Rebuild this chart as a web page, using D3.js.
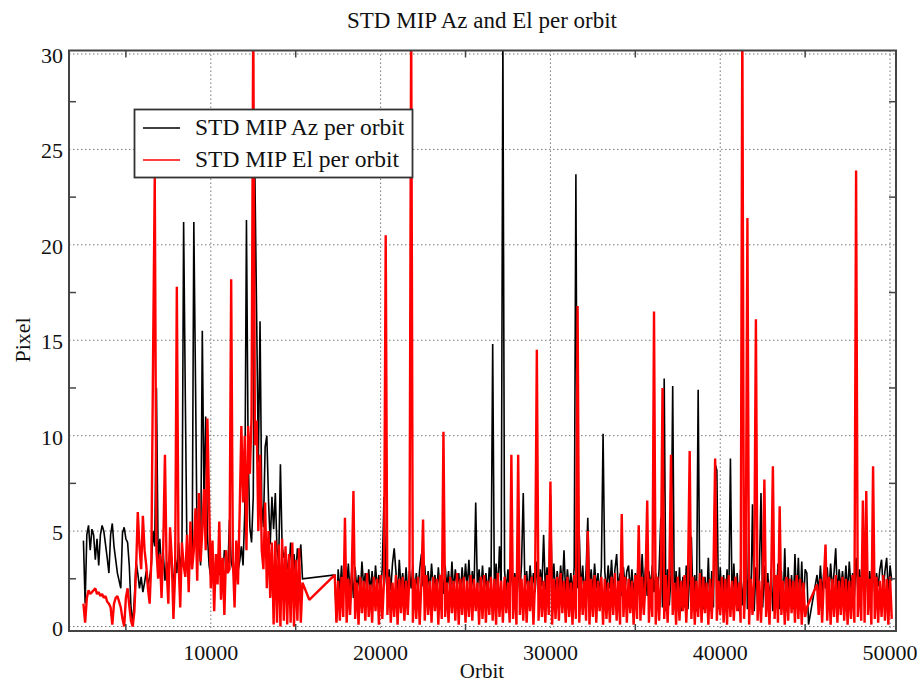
<!DOCTYPE html>
<html>
<head>
<meta charset="utf-8">
<script src="https://cdn.jsdelivr.net/npm/d3@7"></script>
<style>
  html, body { margin: 0; padding: 0; background: #fff; }
  svg { display: block; }
  text { font-family: "Liberation Serif", "DejaVu Serif", serif; fill: #111; }
</style>
</head>
<body>
<svg id="chart" width="922" height="684"></svg>
<script>
// ---------------- data ----------------
const titleText = "STD MIP Az and El per orbit";
const xLabel = "Orbit";
const yLabel = "Pixel";
const seriesNames = ["STD MIP Az per orbit", "STD MIP El per orbit"];
const seriesColors = ["#000000", "#ff0000"];
const xTickValues = [10000, 20000, 30000, 40000, 50000];
const xMinorTicks = [5000, 15000, 25000, 35000, 45000];
const yTickValues = [0, 5, 10, 15, 20, 25, 30];
const yMinorTicks = [2.5, 7.5, 12.5, 17.5, 22.5, 27.5];

// orbit sampling (every 100 orbits from orbit 2500)
const orbitStart = 2500;
const orbitStep = 100;

// STD MIP Az per orbit (black)
const azValues = [
4.5,1.2,4.8,5.3,4.0,5.1,4.8,3.5,4.6,3.2,
4.8,5.3,5.0,4.3,3.6,2.8,4.8,5.4,4.2,3.5,
2.8,2.4,2.0,4.9,5.2,4.6,4.4,3.2,1.0,0.1,
1.5,3.4,2.8,2.0,2.6,1.8,2.3,2.9,2.2,2.6,
3.2,5.0,4.2,12.5,3.5,4.6,2.8,3.9,2.4,3.4,
2.6,4.2,3.0,2.2,3.6,2.8,4.4,3.1,3.8,21.2,
12.0,3.6,2.4,4.2,3.0,21.2,12.8,3.8,4.6,3.2,
15.5,6.5,11.0,4.8,3.2,2.6,3.8,2.9,2.4,3.1,
2.7,3.3,2.5,4.0,3.6,2.8,5.6,3.4,3.0,2.6,
3.8,2.9,3.4,4.2,3.2,6.0,21.3,9.0,5.2,4.4,
6.8,23.5,16.2,8.6,16.0,6.4,5.2,9.4,10.0,6.6,
4.3,6.8,5.1,7.0,4.0,3.4,8.5,4.2,3.6,3.9,
3.2,2.8,4.4,3.0,3.8,2.6,4.1,3.3,4.3,2.5,
null,null,null,null,null,null,null,null,null,null,
null,null,null,null,null,null,null,null,2.7,0.3,
3.0,1.8,3.2,1.6,2.8,2.0,3.3,1.7,2.9,1.5,
3.1,1.9,2.7,1.6,3.4,2.1,2.8,1.7,3.0,1.8,
2.9,1.6,3.2,2.0,2.7,1.8,3.1,6.8,2.8,1.7,
3.0,1.9,3.3,4.1,2.9,1.6,3.5,2.0,2.8,1.8,
3.1,1.7,2.9,2.0,3.2,1.6,2.8,1.9,3.0,3.8,
2.1,3.2,1.7,2.9,1.8,3.3,2.0,2.7,1.6,3.1,
1.9,2.8,1.7,3.2,2.0,2.9,1.6,3.4,1.8,3.0,
2.1,2.8,1.7,3.1,1.9,3.3,2.0,3.5,1.6,2.9,
1.8,6.5,2.0,3.0,1.7,3.2,1.9,2.8,1.6,3.1,
2.0,14.8,1.8,3.3,1.7,4.2,2.1,31.0,2.9,1.9,
3.0,1.6,3.2,1.8,2.8,2.0,3.1,1.7,3.3,7.0,
1.9,2.9,1.6,3.2,2.0,2.8,1.8,3.4,1.7,3.0,
2.1,4.8,1.9,3.1,1.6,6.9,2.0,3.3,1.7,2.9,
1.8,3.2,2.0,4.0,1.6,3.0,1.9,2.8,1.7,3.1,
23.7,2.0,4.8,1.8,3.2,1.6,2.9,5.7,1.9,3.0,
1.7,3.3,2.0,2.8,1.6,3.1,10.1,2.9,1.8,3.2,
2.0,3.5,1.7,3.0,3.8,1.9,2.8,1.6,3.1,2.0,
2.9,3.2,1.8,3.0,1.6,2.8,2.0,4.5,1.7,3.8,
1.9,3.1,1.6,2.9,2.0,3.2,1.8,2.8,1.7,3.0,
5.7,1.0,13.0,0.8,3.0,1.1,2.7,12.6,0.9,2.9,
1.2,3.1,0.8,2.6,1.0,3.2,0.9,2.8,4.7,1.1,
2.7,0.8,12.4,1.0,3.0,0.9,2.6,1.2,3.6,0.8,
2.9,1.0,8.5,8.2,0.9,3.1,1.1,2.7,0.8,3.0,
1.0,8.8,0.9,3.3,1.2,2.8,0.8,3.0,1.1,2.6,
7.5,0.9,2.9,1.0,6.4,0.8,3.1,1.2,2.7,7.0,
1.0,3.2,0.9,2.8,1.1,3.0,0.8,2.6,1.2,3.3,
0.9,2.9,1.0,4.1,0.8,3.1,1.1,2.7,0.9,3.8,
1.2,3.6,1.0,3.4,0.9,3.0,2.8,0.1,null,null,
null,null,2.7,1.8,3.2,1.6,2.9,2.0,3.1,1.7,
3.3,1.9,2.8,4.1,1.6,3.0,2.0,2.9,1.8,3.2,
1.7,3.4,2.0,2.8,1.6,3.6,1.9,3.0,1.8,2.7,
2.0,3.1,1.6,2.9,1.8,3.2,1.7,2.8,2.1,3.0,
3.5,1.9,2.9,3.6,1.7,3.2,2.4
];

// STD MIP El per orbit (red)
const elValues = [
1.2,0.2,1.5,1.9,1.7,1.8,1.9,2.0,1.7,1.8,
1.6,1.7,1.5,1.6,1.3,1.2,1.0,0.1,1.2,1.5,
1.6,1.3,1.0,0.4,0.0,1.5,2.0,1.1,0.3,0.0,
0.8,3.0,6.0,4.2,3.0,5.8,4.0,3.2,2.0,1.2,
3.5,14.0,23.5,4.0,2.5,3.8,1.5,4.2,9.0,3.0,
1.2,5.2,3.6,0.4,2.8,17.8,3.5,1.0,4.4,3.2,
2.6,4.8,1.8,5.5,3.0,4.0,6.2,2.4,7.0,3.4,
5.0,7.2,4.0,10.9,6.5,2.0,4.5,0.8,3.8,2.2,
5.5,1.4,3.6,0.6,4.0,2.8,3.0,18.2,3.5,1.0,
4.5,2.2,6.0,10.5,6.5,10.0,4.0,10.5,8.0,11.0,
32.0,9.5,10.8,5.0,9.0,4.0,3.0,6.5,2.0,5.0,
1.5,4.4,0.1,4.5,0.2,4.3,0.0,4.6,0.3,4.2,
0.1,3.8,0.2,4.4,0.0,3.5,0.3,4.1,0.2,2.3,
null,null,null,1.4,null,null,null,null,null,null,
null,null,null,null,null,null,null,null,2.7,0.2,
2.4,0.3,2.6,0.5,5.7,0.2,2.5,0.6,2.7,7.1,
0.4,2.3,0.1,2.6,0.7,2.4,0.3,2.8,0.5,2.2,
0.2,2.6,0.8,2.5,0.1,2.7,0.4,2.4,20.5,0.6,
2.6,0.2,2.3,0.5,2.7,0.1,2.5,0.7,2.6,0.3,
2.4,0.6,2.8,32.0,0.2,2.5,0.4,2.6,0.1,2.3,
5.6,0.3,2.7,0.6,2.4,0.2,2.6,0.8,2.5,0.1,
2.7,0.4,10.2,0.5,2.3,0.2,2.6,0.7,2.4,0.3,
2.8,0.1,2.5,0.6,2.6,0.2,2.4,0.5,2.7,0.3,
2.5,0.8,2.3,0.1,2.6,0.4,2.7,0.2,2.4,0.6,
2.6,0.3,2.5,0.1,2.8,0.5,2.4,0.2,2.6,0.7,
2.3,0.2,9.0,0.4,2.6,0.1,9.0,0.6,2.5,0.3,
2.7,0.2,2.4,0.8,2.6,0.1,2.5,14.5,0.3,2.6,
0.5,2.4,0.2,2.7,0.6,7.6,0.1,2.5,0.4,2.6,
0.3,2.8,0.7,2.4,0.2,2.6,0.5,2.3,0.1,2.7,
0.4,16.8,0.2,2.6,0.6,2.4,0.3,5.0,0.1,2.5,
0.5,2.7,0.2,2.4,0.8,2.6,0.1,2.5,0.4,2.3,
0.2,2.6,0.6,2.8,0.3,2.4,0.1,5.9,0.5,2.6,
0.2,2.5,0.7,2.4,0.1,2.7,0.4,5.3,0.3,2.6,
0.6,2.4,6.6,0.2,2.5,0.5,16.5,0.1,2.6,0.3,
2.4,12.5,0.4,2.7,0.2,2.5,9.0,0.6,2.3,0.1,
2.6,0.3,2.4,0.8,2.7,0.2,2.5,9.2,0.4,2.6,
0.1,2.4,0.5,2.8,0.2,2.6,0.7,2.3,0.1,2.5,
0.4,2.7,8.8,0.3,2.4,0.6,2.6,0.2,2.5,0.1,
2.7,0.5,2.4,0.3,2.6,0.8,2.3,0.2,32.0,0.4,
2.6,21.4,0.1,2.5,0.6,2.7,16.1,0.3,2.4,0.2,
2.6,7.7,0.5,2.3,0.1,2.5,8.4,0.4,2.7,0.2,
6.3,0.6,2.4,0.1,2.6,0.3,2.5,0.7,2.4,0.2,
2.7,0.4,2.5,0.1,2.3,0.5,1.0,null,null,null,
null,null,2.2,0.6,2.5,0.2,2.4,4.3,0.3,2.6,
0.1,2.5,0.5,2.7,0.2,2.4,0.6,2.6,0.3,2.5,
0.1,2.4,0.4,2.7,0.2,23.9,0.5,2.6,0.3,6.6,
0.2,7.1,0.6,2.5,0.1,8.4,0.4,2.6,0.2,2.4,
0.5,2.7,0.3,2.5,0.1,2.6,0.4
];

// ---------------- layout ----------------
const W = 922, H = 684;
const plot = { left: 69, right: 896, top: 50.5, bottom: 631 };

const x = d3.scaleLinear().domain([1650, 50350]).range([plot.left, plot.right]);
const y = d3.scaleLinear().domain([0, 30]).range([626.5, 54]);

const svg = d3.select("#chart");
svg.append("rect").attr("width", W).attr("height", H).attr("fill", "#fff");

svg.append("defs").append("clipPath").attr("id", "clip")
  .append("rect")
  .attr("x", plot.left).attr("y", plot.top)
  .attr("width", plot.right - plot.left).attr("height", plot.bottom - plot.top);

// grid
const grid = svg.append("g").attr("class", "grid");
grid.selectAll("line.gx").data(xTickValues).join("line")
  .attr("x1", d => x(d)).attr("x2", d => x(d))
  .attr("y1", plot.top).attr("y2", plot.bottom)
  .attr("stroke", "#777").attr("stroke-width", 1).attr("stroke-dasharray", "1.5,2.5");
grid.selectAll("line.gy").data(yTickValues).join("line")
  .attr("x1", plot.left).attr("x2", plot.right)
  .attr("y1", d => y(d)).attr("y2", d => y(d))
  .attr("stroke", "#777").attr("stroke-width", 1).attr("stroke-dasharray", "1.5,2.5");

// series
function pts(values) {
  return values.map((v, i) => ({ o: orbitStart + i * orbitStep, v }))
               .filter(p => p.v !== null);
}
const line = d3.line().x(p => x(p.o)).y(p => y(p.v));
const dataG = svg.append("g").attr("clip-path", "url(#clip)");
const strokeW = [1.6, 2.4];
[azValues, elValues].forEach((vals, k) => {
  dataG.append("path")
    .datum(pts(vals))
    .attr("d", line)
    .attr("fill", "none")
    .attr("stroke", seriesColors[k])
    .attr("stroke-width", strokeW[k])
    .attr("stroke-linejoin", "miter")
    .attr("stroke-miterlimit", 1.5);
});

// frame
svg.append("rect")
  .attr("x", plot.left).attr("y", plot.top)
  .attr("width", plot.right - plot.left).attr("height", plot.bottom - plot.top)
  .attr("fill", "none").attr("stroke", "#444").attr("stroke-width", 2);

// minor ticks (inward)
const tickLen = 7;
const tk = svg.append("g").attr("stroke", "#444").attr("stroke-width", 1.5);
yMinorTicks.forEach(v => {
  tk.append("line").attr("x1", plot.left).attr("x2", plot.left + tickLen).attr("y1", y(v)).attr("y2", y(v));
  tk.append("line").attr("x1", plot.right).attr("x2", plot.right - tickLen).attr("y1", y(v)).attr("y2", y(v));
});
xMinorTicks.forEach(v => {
  tk.append("line").attr("x1", x(v)).attr("x2", x(v)).attr("y1", plot.bottom).attr("y2", plot.bottom - tickLen);
  tk.append("line").attr("x1", x(v)).attr("x2", x(v)).attr("y1", plot.top).attr("y2", plot.top + tickLen);
});

// tick labels
svg.append("g").selectAll("text").data(yTickValues).join("text")
  .attr("x", 63).attr("y", d => y(d) + 9)
  .attr("text-anchor", "end").attr("font-size", 22)
  .text(d => d);
svg.append("g").selectAll("text").data(xTickValues).join("text")
  .attr("x", d => x(d)).attr("y", 660)
  .attr("text-anchor", "middle").attr("font-size", 22)
  .text(d => d);

// axis titles
svg.append("text").attr("x", 482).attr("y", 678).attr("text-anchor", "middle")
  .attr("font-size", 21).text(xLabel);
svg.append("text").attr("transform", "translate(30,340) rotate(-90)")
  .attr("text-anchor", "middle").attr("font-size", 22).text(yLabel);
svg.append("text").attr("x", 482).attr("y", 28).attr("text-anchor", "middle")
  .attr("font-size", 23).text(titleText);

// legend
const lg = svg.append("g");
lg.append("rect").attr("x", 134.5).attr("y", 109.5).attr("width", 278).attr("height", 68)
  .attr("fill", "#fff").attr("stroke", "#333").attr("stroke-width", 1.8);
seriesNames.forEach((name, k) => {
  const yy = 128 + k * 32;
  lg.append("line").attr("x1", 143).attr("x2", 180).attr("y1", yy).attr("y2", yy)
    .attr("stroke", seriesColors[k]).attr("stroke-width", 1.5);
  lg.append("text").attr("x", 195).attr("y", yy + 7).attr("font-size", 23.5).text(name);
});
</script>
</body>
</html>
